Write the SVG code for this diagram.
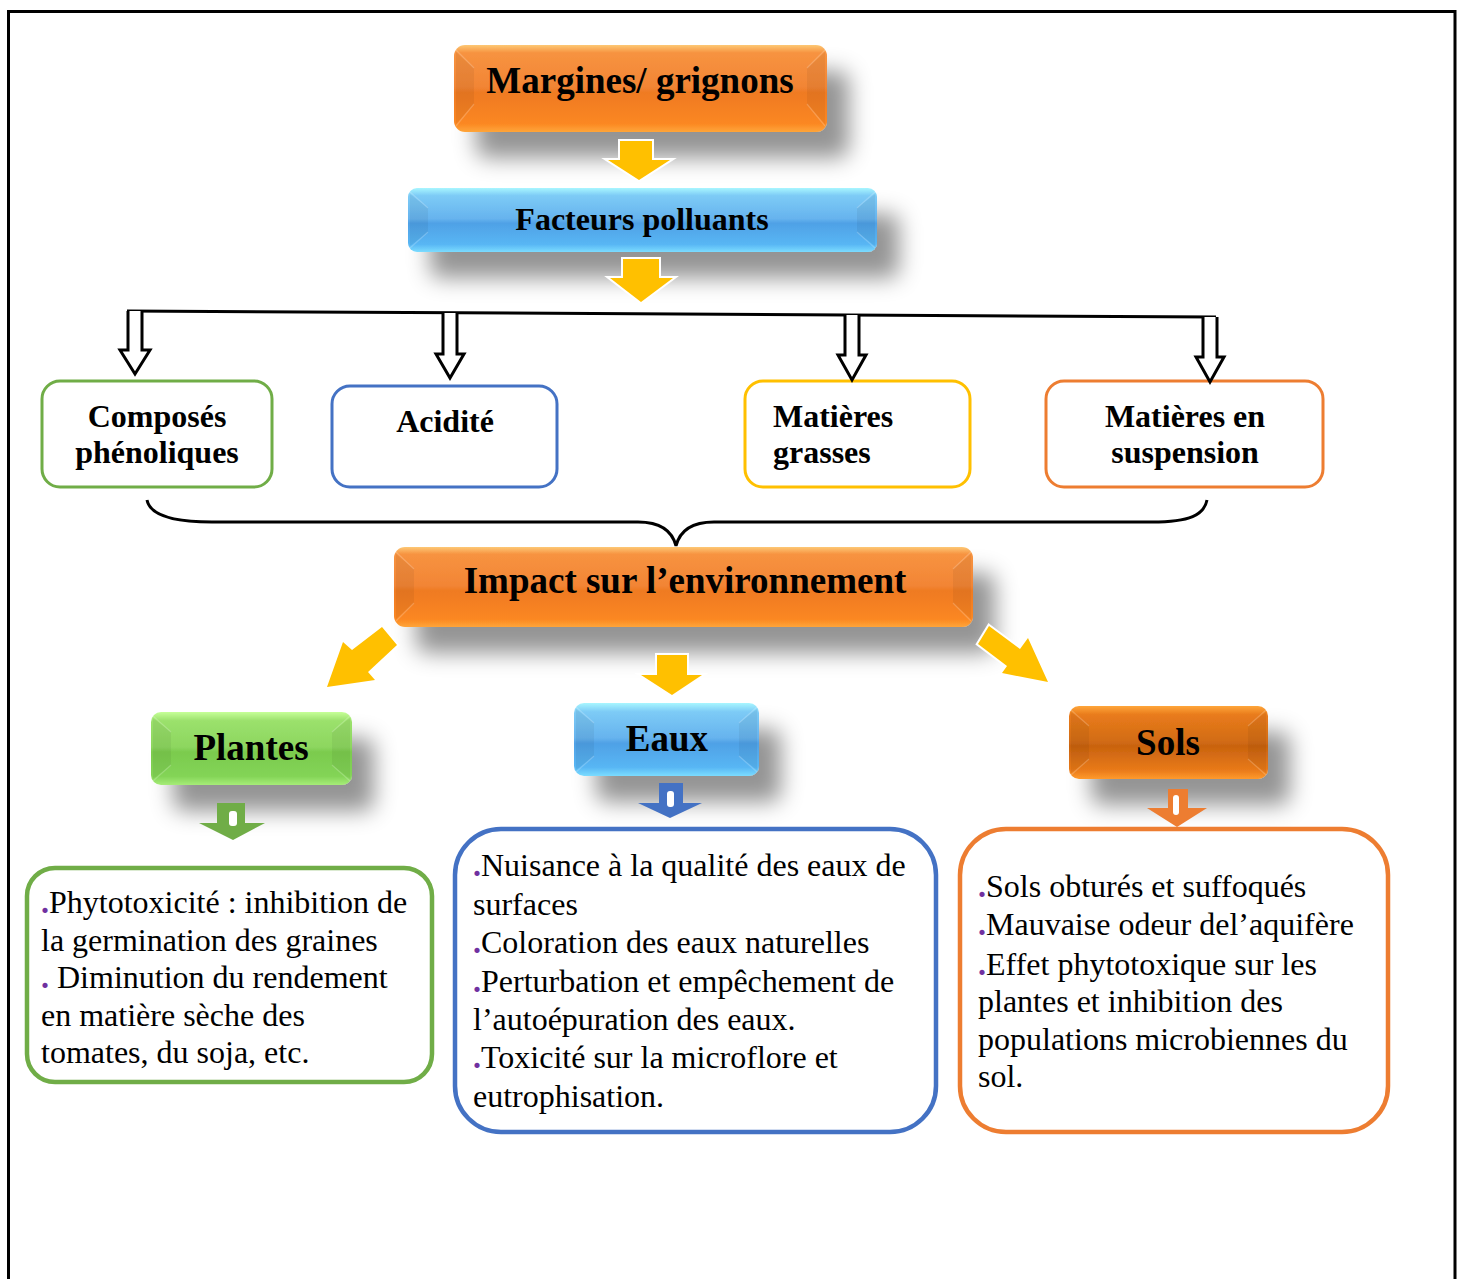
<svg xmlns="http://www.w3.org/2000/svg" width="1462" height="1279" viewBox="0 0 1462 1279">
  <defs>
    <style>
      .title { font-family: "Liberation Serif", "Times New Roman", serif; font-weight: bold; fill: #000; text-anchor: middle; }
      .lbl { font-family: "Liberation Serif", "Times New Roman", serif; font-weight: bold; font-size: 32px; fill: #000; }
      .body { font-family: "Liberation Serif", "Times New Roman", serif; font-size: 32px; fill: #000; }
      .dot { fill: #7030A0; font-weight: bold; }
      .box { fill: #fff; stroke-width: 3; }
      .tbox { fill: #fff; stroke-width: 4.5; }
      .bevel { fill: #000; opacity: 0.05; }
      .hl { stroke: #fff; stroke-width: 1.2; opacity: 0.2; fill: none; }
      .yarrow { fill: #FFC000; stroke: #fff; stroke-width: 4; paint-order: stroke; stroke-linejoin: miter; }
      .hollow { fill: #fff; stroke: #000; stroke-width: 3; stroke-linejoin: miter; }
      .slot { fill: #fff; }
    </style>
    <filter id="shadow" x="-30%" y="-50%" width="180%" height="260%">
      <feDropShadow dx="22" dy="26" stdDeviation="11" flood-color="#000" flood-opacity="0.42"/>
    </filter>
    <linearGradient id="gOrange" x1="0" y1="0" x2="0" y2="1">
      <stop offset="0" stop-color="#FDC875"/>
      <stop offset="0.09" stop-color="#F79340"/>
      <stop offset="0.48" stop-color="#F28535"/>
      <stop offset="0.55" stop-color="#EF7A22"/>
      <stop offset="0.9" stop-color="#FB8721"/>
      <stop offset="1" stop-color="#FFA53A"/>
    </linearGradient>
    <linearGradient id="gBlue" x1="0" y1="0" x2="0" y2="1">
      <stop offset="0" stop-color="#A8F6FF"/>
      <stop offset="0.12" stop-color="#7DCBF6"/>
      <stop offset="0.48" stop-color="#66B3EE"/>
      <stop offset="0.55" stop-color="#4FA1E6"/>
      <stop offset="0.88" stop-color="#58B6F4"/>
      <stop offset="1" stop-color="#7BDCFF"/>
    </linearGradient>
    <linearGradient id="gGreen" x1="0" y1="0" x2="0" y2="1">
      <stop offset="0" stop-color="#C6FF98"/>
      <stop offset="0.12" stop-color="#9BE16C"/>
      <stop offset="0.48" stop-color="#8DD65F"/>
      <stop offset="0.55" stop-color="#7BCB4E"/>
      <stop offset="0.88" stop-color="#83D456"/>
      <stop offset="1" stop-color="#A6EC78"/>
    </linearGradient>
    <linearGradient id="gRust" x1="0" y1="0" x2="0" y2="1">
      <stop offset="0" stop-color="#FFA63A"/>
      <stop offset="0.12" stop-color="#E97B1B"/>
      <stop offset="0.48" stop-color="#D26C16"/>
      <stop offset="0.55" stop-color="#C9630F"/>
      <stop offset="0.88" stop-color="#E97A1A"/>
      <stop offset="1" stop-color="#FF9A2C"/>
    </linearGradient>
  </defs>

  <rect width="1462" height="1279" fill="#fff"/>

  <!-- page frame (open at the bottom) -->
  <path d="M8.5,1290 V11.5 H1455 V1290" fill="none" stroke="#000" stroke-width="3"/>

  <!-- top button -->
  <g id="margines">
    <rect x="454" y="45" width="373" height="87" rx="11" fill="url(#gOrange)" filter="url(#shadow)"/>
    <polygon class="bevel" points="456,52 474,68 474,104 456,124"/>
    <polygon class="bevel" points="825,52 807,68 807,104 825,124"/>
    <path class="hl" d="M456,50 L474,68 M456,126 L474,104 M825,50 L807,68 M825,126 L807,104"/>
    <text class="title" x="640" y="93" font-size="37">Margines/ grignons</text>
  </g>

  <g id="facteurs">
    <rect x="408" y="188" width="469" height="64" rx="9" fill="url(#gBlue)" filter="url(#shadow)"/>
    <polygon class="bevel" points="410,194 428,208 428,232 410,246"/>
    <polygon class="bevel" points="875,194 857,208 857,232 875,246"/>
    <path class="hl" d="M410,192 L428,208 M410,248 L428,232 M875,192 L857,208 M875,248 L857,232"/>
    <text class="title" x="642" y="230" font-size="32">Facteurs polluants</text>
  </g>

  <!-- pollutant boxes -->
  <g id="composes">
    <rect class="box" x="42" y="381" width="230" height="106" rx="18" stroke="#70AD47"/>
    <text class="lbl" x="157" y="427" text-anchor="middle">Composés</text>
    <text class="lbl" x="157" y="463" text-anchor="middle">phénoliques</text>
  </g>
  <g id="acidite">
    <rect class="box" x="332" y="386" width="225" height="101" rx="18" stroke="#4472C4"/>
    <text class="lbl" x="445" y="432" text-anchor="middle">Acidité</text>
  </g>
  <g id="grasses">
    <rect class="box" x="745" y="381" width="225" height="106" rx="18" stroke="#FFC000"/>
    <text class="lbl" x="773" y="427">Matières</text>
    <text class="lbl" x="773" y="463">grasses</text>
  </g>
  <g id="suspension">
    <rect class="box" x="1046" y="381" width="277" height="106" rx="18" stroke="#ED7D31"/>
    <text class="lbl" x="1185" y="427" text-anchor="middle">Matières en</text>
    <text class="lbl" x="1185" y="463" text-anchor="middle">suspension</text>
  </g>

  <g id="impact">
    <rect x="394" y="547" width="579" height="80" rx="11" fill="url(#gOrange)" filter="url(#shadow)"/>
    <polygon class="bevel" points="396,554 414,569 414,603 396,619"/>
    <polygon class="bevel" points="971,554 953,569 953,603 971,619"/>
    <path class="hl" d="M396,552 L414,569 M396,621 L414,603 M971,552 L953,569 M971,621 L953,603"/>
    <text class="title" x="685" y="593" font-size="37">Impact sur l’environnement</text>
  </g>

  <!-- impact categories -->
  <g id="plantes">
    <rect x="151" y="712" width="201" height="73" rx="10" fill="url(#gGreen)" filter="url(#shadow)"/>
    <polygon class="bevel" points="153,718 171,732 171,765 153,779"/>
    <polygon class="bevel" points="350,718 332,732 332,765 350,779"/>
    <path class="hl" d="M153,716 L171,732 M153,781 L171,765 M350,716 L332,732 M350,781 L332,765"/>
    <text class="title" x="251" y="760" font-size="37">Plantes</text>
  </g>
  <g id="eaux">
    <rect x="574" y="703" width="185" height="73" rx="10" fill="url(#gBlue)" filter="url(#shadow)"/>
    <polygon class="bevel" points="576,709 594,723 594,756 576,770"/>
    <polygon class="bevel" points="757,709 739,723 739,756 757,770"/>
    <path class="hl" d="M576,707 L594,723 M576,772 L594,756 M757,707 L739,723 M757,772 L739,756"/>
    <text class="title" x="667" y="751" font-size="37">Eaux</text>
  </g>
  <g id="sols">
    <rect x="1069" y="706" width="199" height="73" rx="10" fill="url(#gRust)" filter="url(#shadow)"/>
    <polygon class="bevel" points="1071,712 1089,726 1089,759 1071,773"/>
    <polygon class="bevel" points="1266,712 1248,726 1248,759 1266,773"/>
    <path class="hl" d="M1071,710 L1089,726 M1071,775 L1089,759 M1266,710 L1248,726 M1266,775 L1248,759"/>
    <text class="title" x="1168" y="755" font-size="37">Sols</text>
  </g>

  <!-- effect descriptions -->
  <g id="effets-plantes">
    <rect class="tbox" x="27" y="868" width="405" height="214" rx="28" stroke="#70AD47"/>
    <text class="body" x="41" y="913"><tspan class="dot">.</tspan>Phytotoxicité : inhibition de</text>
    <text class="body" x="41" y="951">la germination des graines</text>
    <text class="body" x="41" y="988"><tspan class="dot">.</tspan> Diminution du rendement</text>
    <text class="body" x="41" y="1026">en matière sèche des</text>
    <text class="body" x="41" y="1063">tomates, du soja, etc.</text>
  </g>
  <g id="effets-eaux">
    <rect class="tbox" x="455" y="829" width="481" height="303" rx="46" stroke="#4472C4"/>
    <text class="body" x="473" y="876"><tspan class="dot">.</tspan>Nuisance à la qualité des eaux de</text>
    <text class="body" x="473" y="915">surfaces</text>
    <text class="body" x="473" y="953"><tspan class="dot">.</tspan>Coloration des eaux naturelles</text>
    <text class="body" x="473" y="992"><tspan class="dot">.</tspan>Perturbation et empêchement de</text>
    <text class="body" x="473" y="1030">l’autoépuration des eaux.</text>
    <text class="body" x="473" y="1068"><tspan class="dot">.</tspan>Toxicité sur la microflore et</text>
    <text class="body" x="473" y="1107">eutrophisation.</text>
  </g>
  <g id="effets-sols">
    <rect class="tbox" x="960" y="829" width="428" height="303" rx="46" stroke="#ED7D31"/>
    <text class="body" x="978" y="897"><tspan class="dot">.</tspan>Sols obturés et suffoqués</text>
    <text class="body" x="978" y="935"><tspan class="dot">.</tspan>Mauvaise odeur del’aquifère</text>
    <text class="body" x="978" y="975"><tspan class="dot">.</tspan>Effet phytotoxique sur les</text>
    <text class="body" x="978" y="1012">plantes et inhibition des</text>
    <text class="body" x="978" y="1050">populations microbiennes du</text>
    <text class="body" x="978" y="1087">sol.</text>
  </g>

  <!-- connectors -->
  <g id="connectors">
    <path class="yarrow" d="M620,141 H652 V160 H670 L639,180 L608,160 H620 Z"/>
    <path class="yarrow" d="M623,259 H659 V278 H673 L641,302 L610,278 H623 Z"/>

    <path d="M127,311 L1216,317" fill="none" stroke="#000" stroke-width="3"/>
    <path class="hollow" d="M128,311 V350 H120 L135,374 L150,350 H142 V311"/>
    <path class="hollow" d="M443,313 V354 H436 L450,378 L464,354 H457 V313"/>
    <path class="hollow" d="M845,315 V355 H838 L852,380 L866,355 H859 V315"/>
    <path class="hollow" d="M1203,317 V357 H1196 L1210,382 L1224,357 H1217 V317"/>

    <path d="M147,500 C150,515 172,522 212,522 H638 C660,522 672,530 676,546 C680,530 692,522 714,522 H1152 C1190,522 1204,515 1207,500" fill="none" stroke="#000" stroke-width="3"/>

    <polygon class="yarrow" points="382,627 397,645 368,672 375,680 327,687 343,642 352,650"/>
    <path class="yarrow" d="M657,655 H687 V675 H702 L672,695 L641,675 H657 Z"/>
    <polygon class="yarrow" points="989,626 1020,649 1028,638 1048,682 1002,673 1007,666 978,644"/>

    <path d="M217,803 H245 V823 H265 L233,840 L199,823 H217 Z" fill="#70AD47"/>
    <rect class="slot" x="229" y="811" width="8" height="15" rx="3"/>
    <path d="M659,783 H683 V803 H702 L670,818 L638,803 H659 Z" fill="#4472C4"/>
    <rect class="slot" x="667" y="791" width="7" height="16" rx="3"/>
    <path d="M1168,789 H1188 V808 H1207 L1177,827 L1147,808 H1168 Z" fill="#ED7D31"/>
    <rect class="slot" x="1173" y="795" width="6" height="20" rx="3"/>
  </g>
</svg>
